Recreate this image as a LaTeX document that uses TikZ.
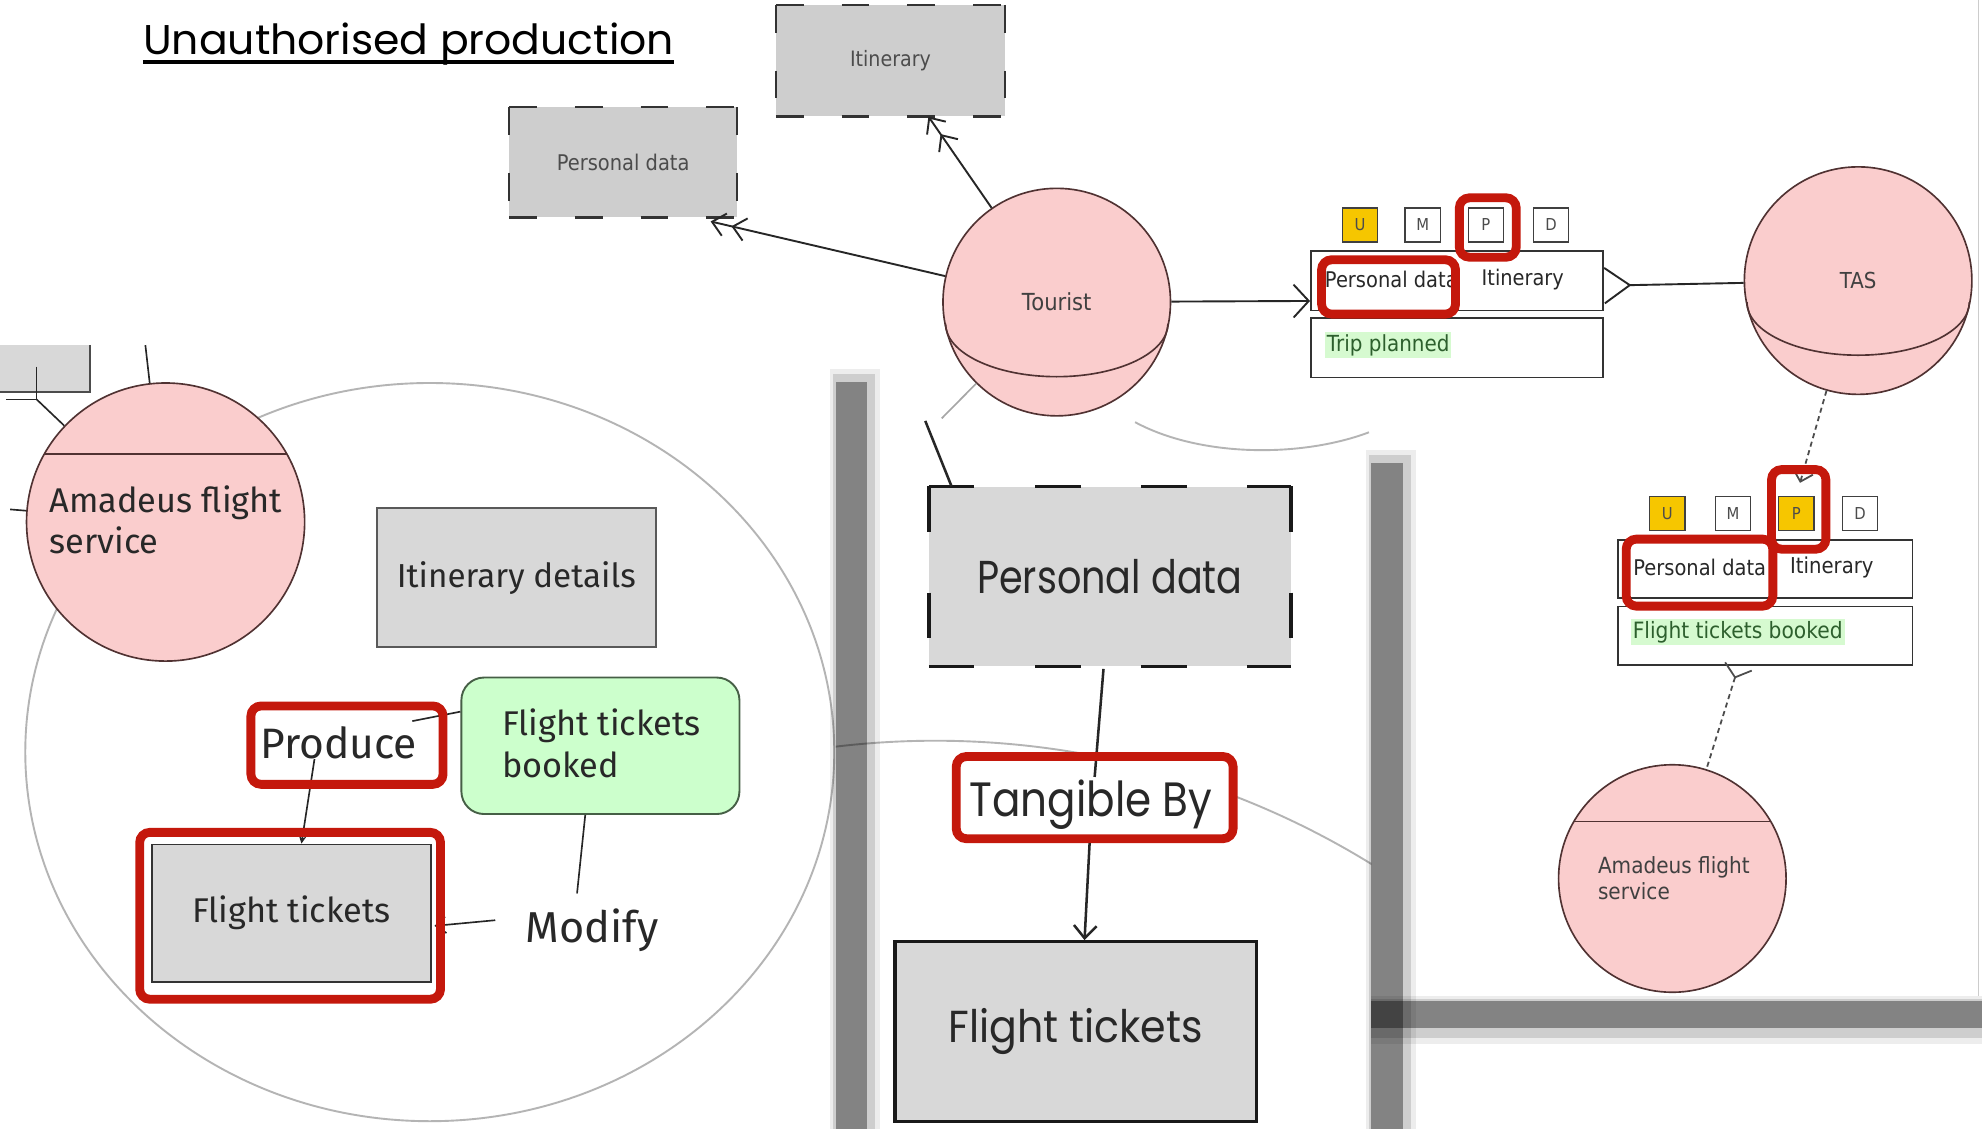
\documentclass[tikz,border=0pt]{standalone}
\usepackage{fontspec}
\usepackage{graphicx}
\usetikzlibrary{arrows.meta,calc}

\newfontfamily\smf[FakeStretch=0.9]{DejaVu Sans}
\newfontfamily\ubf{Fira Sans}
\newfontfamily\geof{Poppins}
% fit a text to a given width (and optionally height)
\newcommand\fw[2]{\resizebox{#1pt}{!}{#2}}
\newcommand\fwh[3]{\resizebox{#1pt}{#2pt}{#3}}

\definecolor{pinkfill}{RGB}{250,205,205}
\definecolor{balledge}{RGB}{80,50,50}
\definecolor{boxgray}{RGB}{216,216,216}
\definecolor{dashgray}{RGB}{206,206,206}
\definecolor{hlred}{RGB}{196,24,12}
\definecolor{umpdyellow}{RGB}{246,198,0}
\definecolor{evgreen}{RGB}{214,250,208}
\definecolor{evtext}{RGB}{45,95,45}
\definecolor{notegreen}{RGB}{204,255,204}
\definecolor{noteedge}{RGB}{70,95,70}
\definecolor{lensgray}{RGB}{180,180,180}
\definecolor{ink}{RGB}{40,40,40}

% dashed frame drawn side by side, each side starting at a corner
\newcommand\edgedash[2]{%
  \draw[#2] (#1.north west) -- (#1.north east);
  \draw[#2] (#1.north east) -- (#1.south east);
  \draw[#2] (#1.north west) -- (#1.south west);
  \draw[#2] (#1.south west) -- (#1.south east);}

\begin{document}
\begin{tikzpicture}[x=1pt,y=-1pt,
  ball/.style={circle, draw=balledge, line width=1.3pt, fill=pinkfill, inner sep=0pt, minimum size=180pt},
  balline/.style={draw=balledge, line width=1.3pt},
  dashfill/.style={rectangle, fill=dashgray, inner sep=0pt},
  smalldashedge/.style={draw=black!80, line width=2pt, dash pattern=on 22pt off 30pt},
  bigdashedge/.style={draw=black!90, line width=3pt, dash pattern=on 36pt off 48pt},
  umpd/.style={rectangle, draw=black!75, line width=1pt, minimum width=28pt, minimum height=27pt, inner sep=0pt, text=black!70, font=\smf\fontsize{13}{13}\selectfont},
  msgbox/.style={rectangle, draw=black!80, line width=1.2pt, fill=white, minimum width=231pt, minimum height=47pt, inner sep=0pt},
  txt/.style={inner sep=0pt, text=ink},
  evlabel/.style={anchor=west, fill=evgreen, inner sep=1.5pt, text=evtext},
  hl/.style={rectangle, draw=hlred, line width=7pt, rounded corners=8pt, inner sep=0pt},
  conn/.style={draw=black!85, line width=1.5pt},
  thinconn/.style={draw=black!85, line width=1.3pt},
  dashconn/.style={draw=black!70, line width=1.4pt, dash pattern=on 4pt off 3pt},
  dblbarb/.style={-{Straight Barb[length=10pt,width=18pt,sep=5pt]Straight Barb[length=10pt,width=18pt]}},
  lens/.style={draw=lensgray, line width=1.5pt},
  graybox/.style={rectangle, fill=boxgray, inner sep=0pt},
  shadowhaze/.style={fill=black, opacity=0.07},
  shadowsoft/.style={fill=black, opacity=0.13},
  shadowcore/.style={fill=black, opacity=0.36}
]
\clip (0,0) rectangle (1568,893);
\fill[white] (0,0) rectangle (1568,893);

% ---- lens outlines ----
\draw[lens] (340,595) ellipse [x radius=320, y radius=292];
\begin{scope}
  \clip (661,300) rectangle (1085,893);
  \draw[lens] (740,1244) circle [radius=658];
\end{scope}
\draw[lens] (898,334) .. controls (950,362) and (1030,362) .. (1083,342);

% ---- panel shadows (soft layered bars) ----
\fill[shadowhaze] (657,292) rectangle (696,893);
\fill[shadowsoft] (659,296) rectangle (692,893);
\fill[shadowcore] (661,302) rectangle (686,893);
\fill[shadowhaze] (1081,356) rectangle (1120,893);
\fill[shadowsoft] (1083,360) rectangle (1116,893);
\fill[shadowcore] (1085,366) rectangle (1110,893);
\fill[shadowhaze] (1085,788) rectangle (1568,826);
\fill[shadowsoft] (1085,790) rectangle (1568,821);
\fill[shadowcore] (1085,792) rectangle (1568,813);
\draw[gray!40, line width=1pt] (1565,0) -- (1565,788);

% ---- message flow diagram ----
\node[dashfill, minimum width=181pt, minimum height=88pt] (itin) at (704.5,48) {\fw{64}{\smf\color{black!70}Itinerary}};
\edgedash{itin}{smalldashedge}
\node[dashfill, minimum width=180pt, minimum height=87pt] (pdata) at (493,128.5) {\fw{105}{\smf\color{black!70}Personal data}};
\edgedash{pdata}{smalldashedge}

\node[ball] (tourist) at (836,239) {\fw{55}{\smf\color{black!75}Tourist}};
\draw[balline] ($(tourist.center)+(-88,17)$) arc[start angle=180, end angle=0, x radius=88, y radius=42];
\node[ball] (tas) at (1470,222) {\fw{29}{\smf\color{black!75}TAS}};
\draw[balline] ($(tas.center)+(-88,17)$) arc[start angle=180, end angle=0, x radius=88, y radius=42];

\draw[conn, dblbarb] (tourist) -- ($(pdata.south east)+(-21,3)$);
\draw[conn, dblbarb] (tourist) -- ($(itin.south)+(30,0)$);

% message: Trip planned
\node[umpd, fill=umpdyellow] (u1) at (1076,178) {U};
\node[umpd] (m1) at (1125.5,178) {M};
\node[umpd] (p1) at (1175.5,178) {P};
\node[umpd] (d1) at (1227,178) {D};
\node[msgbox] (mb1) at (1152.5,222) {};
\node[msgbox] (eb1) at (1152.5,275) {};
\node[txt, anchor=west] (mb1pd) at (1048,221) {\fw{105}{\smf Personal data}};
\node[txt, anchor=west] (mb1it) at (1172,221) {\fw{65}{\smf Itinerary}};
\node[evlabel] (eb1t) at (1048,273) {\fw{97}{\smf Trip planned}};
\draw[conn, -{Straight Barb[length=12pt,width=26pt]}] (tourist) -- ($(mb1.south west)+(0,-8)$);
\draw[conn, {Straight Barb[reversed,length=20pt,width=28pt]}-] ($(mb1.east)+(0,4)$) -- (tas);
\node[hl, minimum width=106pt, minimum height=43pt] (hl1a) at (1098.5,227) {};
\node[hl, minimum width=45pt, minimum height=47pt] (hl1p) at (1177,180) {};

% message: Flight tickets booked
\node[umpd, fill=umpdyellow] (u2) at (1319,406) {U};
\node[umpd] (m2) at (1371,406) {M};
\node[umpd, fill=umpdyellow] (p2) at (1421,406) {P};
\node[umpd] (d2) at (1471.5,406) {D};
\node[msgbox, minimum width=233pt, minimum height=46pt] (mb2) at (1396.5,450) {};
\node[msgbox, minimum width=233pt, minimum height=46pt] (eb2) at (1396.5,503) {};
\node[txt, anchor=west] (mb2pd) at (1292,449) {\fw{105}{\smf Personal data}};
\node[txt, anchor=west] (mb2it) at (1416,449) {\fw{66}{\smf Itinerary}};
\node[evlabel] (eb2t) at (1290,500) {\fw{166}{\smf Flight tickets booked}};
\draw[dashconn, -{Straight Barb[length=8pt,width=16pt]}] (tas) -- ($(p2.north)+(3,-10)$);
\node[hl, minimum width=116pt, minimum height=53pt] (hl2a) at (1344.5,453) {};
\node[hl, minimum width=43pt, minimum height=63pt] (hl2p) at (1423,403) {};

\node[ball] (amR) at (1323,695) {};
\draw[balline] ($(amR.center)+(-78,-45)$) -- ($(amR.center)+(78,-45)$);
\node[txt, anchor=west] (amRt) at (1264,697) {\fw{120}{\smf\color{black!75}\begin{tabular}{@{}l@{}}Amadeus flight\\service\end{tabular}}};
\draw[dashconn, {Straight Barb[reversed,length=9pt,width=22pt]}-] ($(eb2.south)+(-21,0)$) -- (amR);

% ---- left close-up ----
\node[graybox, minimum width=76pt, minimum height=37pt] (fragbox) at (33,291.5) {};
\draw[draw=black!70, line width=1.5pt] (fragbox.north east) -- (fragbox.south east) -- (fragbox.south west);
\node[ball, minimum size=220pt] (amL) at (131,413) {};
\draw[balline] ($(amL.center)+(-96,-54)$) -- ($(amL.center)+(96,-54)$);
\node[txt, anchor=west] (amLt) at (39,415) {\fw{184}{\ubf\begin{tabular}{@{}l@{}}Amadeus flight\\service\end{tabular}}};
\coordinate (fr1) at (29,290);
\coordinate (fr2) at (29,316);
\coordinate (fr3) at (5,316);
\coordinate (fr4) at (115,273);
\coordinate (fr5) at (8,403);
\draw[thinconn] (fr1) -- (fr2) -- (fr3);
\draw[thinconn] (fr2) -- (amL);
\draw[thinconn] (fr4) -- (amL);
\draw[thinconn] (fr5) -- (amL);

\node[graybox, draw=black!65, line width=1.5pt, minimum width=221pt, minimum height=110pt] (itdet) at (408.5,457) {\fw{189}{\ubf\color{ink}Itinerary details}};
\node[rectangle, rounded corners=18pt, draw=noteedge, line width=1.5pt, fill=notegreen, minimum width=220pt, minimum height=108pt] (ftb) at (475,590) {};
\node[txt, anchor=west] (ftbt) at (397,592) {\fw{157}{\ubf\begin{tabular}{@{}l@{}}Flight tickets\\booked\end{tabular}}};
\node[txt] (produce) at (268,587.5) {\fw{124}{\ubf Produce}};
\node[graybox, draw=black!80, line width=1.3pt, minimum width=221pt, minimum height=109pt] (ftl) at (230.5,722.5) {\fw{157}{\ubf\color{ink}Flight tickets}};
\node[txt] (modify) at (468.5,736) {\fw{105}{\ubf Modify}};

\draw[thinconn] ($(ftb.west)+(0,-27)$) -- ($(produce.north east)+(-4,-4)$);
\draw[thinconn, -{Stealth[length=6pt,width=6pt]}] ($(produce.south west)+(43,0)$) -- ($(ftl.north)+(8,0)$);
\draw[thinconn] ($(ftb.south)+(-12,0)$) -- ($(modify.north)+(-12,-12)$);
\draw[thinconn, -{Straight Barb[length=8pt,width=13pt]}] ($(modify.west)+(-24,-8)$) -- ($(ftl.east)+(2,10)$);
\node[hl, minimum width=152pt, minimum height=62pt] (hlprod) at (274.5,589.5) {};
\node[hl, minimum width=238pt, minimum height=132pt] (hlft) at (229.5,724.5) {};

% ---- middle close-up ----
\node[graybox, minimum width=286pt, minimum height=142pt] (pdbig) at (878,456) {\fwh{210}{27}{\geof\color{ink}Personal data}};
\edgedash{pdbig}{bigdashedge}
\node[rectangle, fill=white, minimum width=219pt, minimum height=65pt] (tangbg) at (866,631) {};
\node[txt] (tang) at (863,636.5) {\fwh{192}{29}{\geof Tangible By}};
\node[graybox, draw=black!90, line width=2.5pt, minimum width=286pt, minimum height=142pt] (ftbig) at (851,816) {\fwh{201}{27}{\geof\color{ink}Flight tickets}};
\coordinate (fr6) at (745,331);
\coordinate (fr7) at (732,333);
\draw[draw=gray!70, line width=1.3pt] (tourist) -- (fr6);
\draw[conn, line width=2pt] (fr7) -- ($(pdbig.north west)+(18,0)$);
\draw[conn, line width=2pt] ($(pdbig.south)+(-5,2)$) -- ($(tang.north)+(3,-2)$);
\node[hl, minimum width=219pt, minimum height=65pt] (hltang) at (866,631) {};
\draw[conn, line width=2pt, -{Straight Barb[length=10pt,width=18pt]}] ($(hltang.south)+(-4,0)$) -- ($(ftbig.north)+(7,0)$);

% ---- heading ----
\node[txt, anchor=base west, text=black] (title) at (113,43) {\fwh{420}{25}{\geof Unauthorised production}};
\draw[line width=3pt] ($(title.base west)+(0,6)$) -- ($(title.base east)+(0,6)$);
\end{tikzpicture}
\end{document}
